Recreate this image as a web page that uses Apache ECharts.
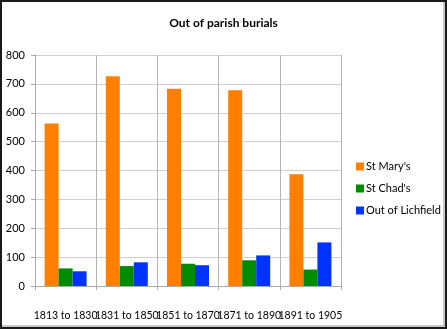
<!DOCTYPE html>
<html>
<head>
<meta charset="utf-8">
<script src="https://cdn.jsdelivr.net/npm/echarts@6/dist/echarts.min.js"></script>
<style>
  html, body { margin: 0; padding: 0; background: #fff; }
  #frame {
    position: absolute; left: 0; top: 0; width: 447px; height: 329px;
    box-sizing: border-box; border: 2px solid #1a1a1a;
    box-shadow: inset -2px -2px 0 #c8c8c8;
  }
  #chart { position: absolute; left: 0; top: 0; width: 447px; height: 329px; }
</style>
</head>
<body>
<div id="chart"></div>
<div id="frame"></div>
<script>
// Burials recorded outside the parish, by period
const periods = ['1813 to 1830', '1831 to 1850', '1851 to 1870', '1871 to 1890', '1891 to 1905'];
const stMarys = [563, 726, 683, 678, 387];
const stChads = [61, 69, 77, 89, 57];
const outOfLichfield = [51, 82, 72, 106, 151];
const yTicks = [0, 100, 200, 300, 400, 500, 600, 700, 800];

const font = 'Lato, "Open Sans", sans-serif';
const chart = echarts.init(document.getElementById('chart'), null, { renderer: 'canvas' });

const bar = (name, data, color) => ({
  name, type: 'bar', data, barWidth: 14, barGap: '0%',
  itemStyle: { color }
});

chart.setOption({
  animation: false,
  title: {
    text: 'Out of parish burials', left: 'center', top: 12,
    textStyle: { fontFamily: font, fontSize: 12, fontWeight: 'bold', color: '#000' }
  },
  legend: {
    orient: 'vertical', left: 356, top: 161, padding: 0, width: 120,
    itemWidth: 8, itemHeight: 8, itemGap: 11, icon: 'rect',
    textStyle: { fontFamily: font, fontSize: 11, color: '#000', padding: [0, 0, 0, -3], width: 100, overflow: 'none' },
    data: ["St Mary's", "St Chad's", 'Out of Lichfield']
  },
  grid: { left: 35, right: 106, top: 55, bottom: 43, containLabel: false },
  xAxis: {
    type: 'category', data: periods,
    axisLine: { lineStyle: { color: '#aaa' } },
    axisTick: { show: true, length: 4, lineStyle: { color: '#aaa' } },
    splitLine: { show: true, lineStyle: { color: '#b4b4b4' } },
    axisLabel: { fontFamily: font, fontSize: 10.5, color: '#000', margin: 24, interval: 0 }
  },
  yAxis: {
    type: 'value', min: yTicks[0], max: yTicks[yTicks.length - 1], interval: 100,
    axisLine: { show: true, lineStyle: { color: '#aaa' } },
    axisTick: { show: true, length: 4, lineStyle: { color: '#aaa' } },
    splitLine: { lineStyle: { color: '#cfcfcf' } },
    axisLabel: { fontFamily: font, fontSize: 11, color: '#000', margin: 10 }
  },
  series: [
    bar("St Mary's", stMarys, '#ff8000'),
    bar("St Chad's", stChads, '#008c00'),
    bar('Out of Lichfield', outOfLichfield, '#0033ff')
  ]
});
</script>
</body>
</html>
